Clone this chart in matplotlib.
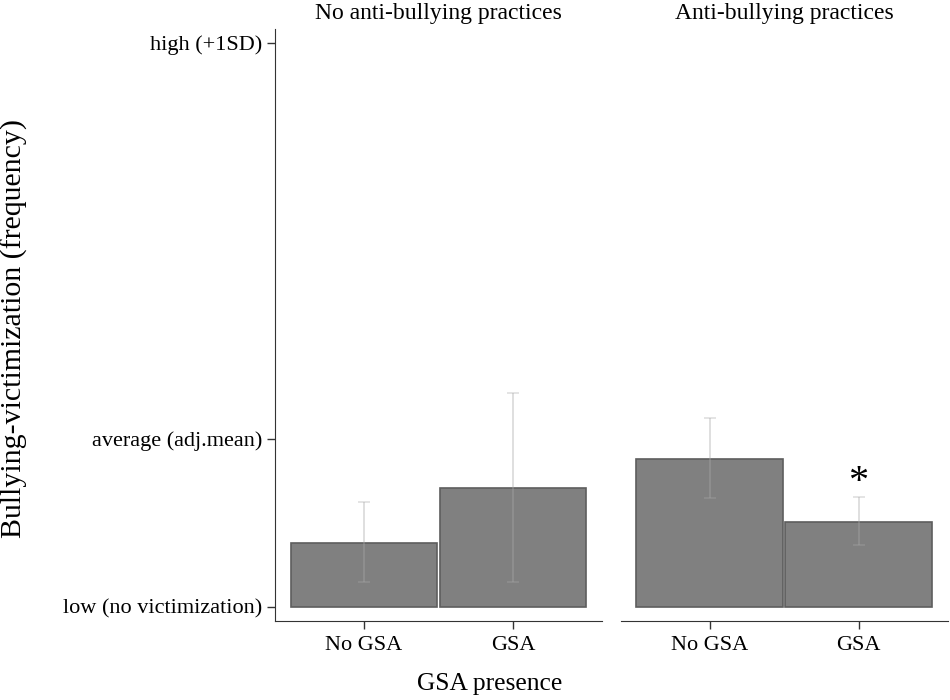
import numpy as np
import matplotlib.pyplot as plt

plt.rcParams['font.family'] = ['Liberation Serif', 'DejaVu Serif']

# values in units where low = 0 and average = 1
panels = ["No anti-bullying practices", "Anti-bullying practices"]
groups = ["No GSA", "GSA"]
means = [[0.382, 0.708], [0.881, 0.507]]
ci_low = [[0.147, 0.147], [0.650, 0.367]]
ci_high = [[0.626, 1.274], [1.123, 0.656]]
ytick_vals = [0.0, 1.0, 3.363]
ytick_labels = ["low (no victimization)", "average (adj.mean)", "high (+1SD)"]

BAR = "#808080"
EDGE = "#5e5e5e"
AXIS = "#333333"

fig = plt.figure(figsize=(9.5, 7), dpi=100)
fig.patch.set_facecolor("white")

lefts = [275 / 950, 620.7 / 950]
axes = [fig.add_axes([l, 0.1133, 0.344, 0.8453]) for l in lefts]

x = np.arange(len(groups))
for i, ax in enumerate(axes):
    m = np.array(means[i])
    lo = m - np.array(ci_low[i])
    hi = np.array(ci_high[i]) - m
    ax.bar(x, m, width=0.985, color=BAR, edgecolor=EDGE, linewidth=1.2, zorder=2)
    ax.errorbar(x, m, yerr=[lo, hi], fmt="none", ecolor="#a8a8a8", alpha=0.4,
                elinewidth=1.3, capsize=4.2, capthick=1.1, zorder=3)
    ax.set_xlim(-0.597, 1.597)
    ax.set_ylim(-0.0835, 3.445)
    ax.set_xticks(x)
    ax.set_xticklabels(groups, fontsize=16)
    ax.tick_params(axis="x", length=6, width=1, color=AXIS, pad=5)
    for s in ["top", "right"]:
        ax.spines[s].set_visible(False)
    ax.spines["bottom"].set_color(AXIS)
    ax.spines["left"].set_color(AXIS)
    ax.set_title(panels[i], fontsize=17, pad=7)

axes[0].set_yticks(ytick_vals)
axes[0].set_yticklabels(ytick_labels, fontsize=16)
axes[0].tick_params(axis="y", length=6, width=1, color=AXIS, pad=3)

axes[1].spines["left"].set_visible(False)
axes[1].set_yticks([])

# significance marker
axes[1].text(1, 0.74, "*", ha="center", va="center", fontsize=29)

fig.text(14 / 950, 1 - 328 / 700, "Bullying-victimization (frequency)",
         rotation=90, ha="center", va="center", fontsize=21.5)
fig.text(490 / 950, 0.023, "GSA presence", ha="center", va="center", fontsize=18.4)

fig.savefig("out.png", dpi=100, facecolor="white")
